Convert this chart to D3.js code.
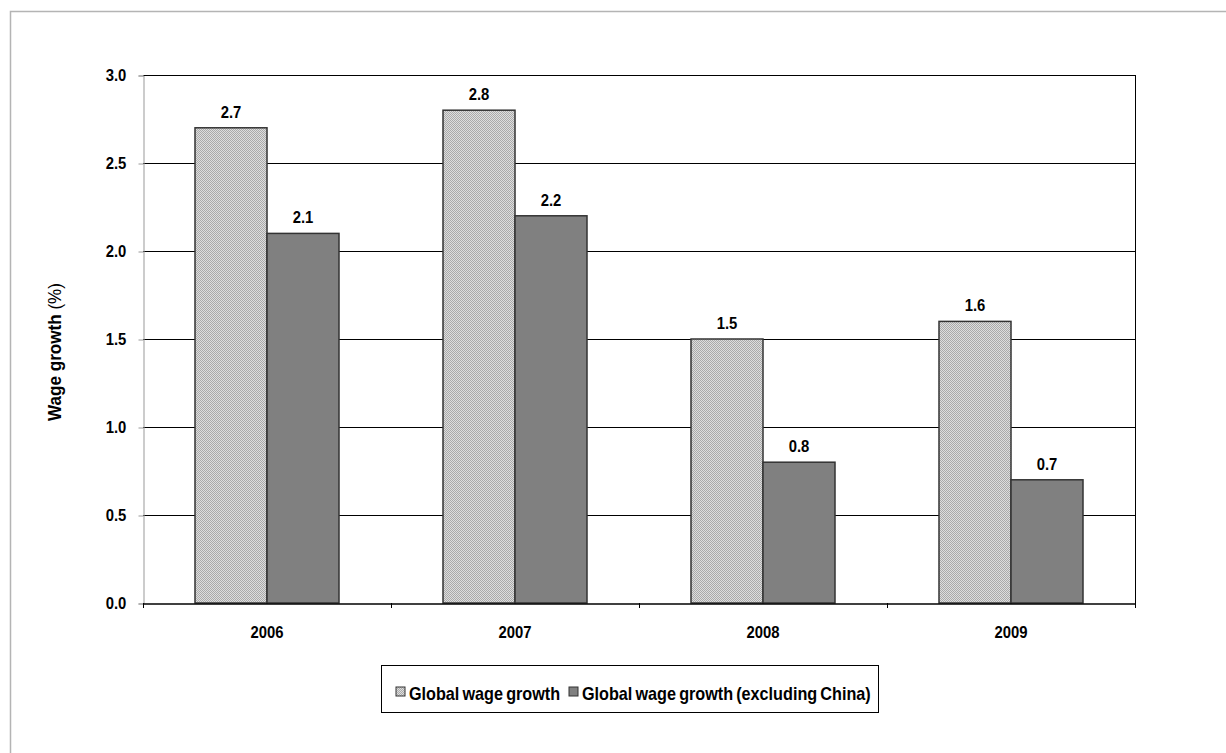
<!DOCTYPE html>
<html>
<head>
<meta charset="utf-8">
<script src="https://cdn.jsdelivr.net/npm/d3@7"></script>
<style>
  body { margin: 0; background: #fff; }
  svg { display: block; font-family: "Liberation Sans", Arial, sans-serif; }
  .cond { transform-box: fill-box; transform-origin: center; transform: scaleX(0.9); }
  .cond-l { transform-box: fill-box; transform-origin: left center; transform: scaleX(0.9); }
</style>
</head>
<body>
<svg width="1226" height="753"></svg>
<script>
'use strict'

const years = ['2006', '2007', '2008', '2009'];
const globalGrowth = [2.7, 2.8, 1.5, 1.6];
const exChinaGrowth = [2.1, 2.2, 0.8, 0.7];
const seriesNames = ['Global wage growth', 'Global wage growth (excluding China)'];
const yTicks = [0, 0.5, 1.0, 1.5, 2.0, 2.5, 3.0];

const svg = d3.select('svg');
const FS = 16.5;

// dotted pattern for the light bars
const defs = svg.append('defs');
const pat = defs.append('pattern')
  .attr('id', 'dots')
  .attr('width', 2).attr('height', 2)
  .attr('patternUnits', 'userSpaceOnUse');
pat.append('rect').attr('width', 2).attr('height', 2).attr('fill', '#dedede');
pat.append('rect').attr('width', 1).attr('height', 1).attr('fill', '#aaaaaa');
pat.append('rect').attr('x', 1).attr('y', 1).attr('width', 1).attr('height', 1).attr('fill', '#aaaaaa');

// outer frame
svg.append('rect')
  .attr('x', 10.5).attr('y', 11.5)
  .attr('width', 1230).attr('height', 760)
  .attr('fill', 'none').attr('stroke', '#b4b4b4').attr('stroke-width', 1.5);

const plotL = 143, plotR = 1135, plotT = 75, plotB = 603;

const x = d3.scaleBand().domain(years).range([plotL, plotR]);
const y = d3.scaleLinear().domain([0, 3]).range([plotB, plotT]);

// gridlines
svg.append('g')
  .selectAll('line')
  .data(yTicks.filter(d => d > 0))
  .join('line')
  .attr('x1', plotL).attr('x2', plotR)
  .attr('y1', d => y(d) + 0.5).attr('y2', d => y(d) + 0.5)
  .attr('stroke', '#000').attr('stroke-width', 1);

// right border
svg.append('line')
  .attr('x1', plotR + 0.5).attr('x2', plotR + 0.5)
  .attr('y1', plotT).attr('y2', plotB)
  .attr('stroke', '#000');

// y axis
const yAxis = svg.append('g')
  .attr('transform', `translate(${plotL + 0.5},0.5)`)
  .call(d3.axisLeft(y).tickValues(yTicks).tickFormat(d3.format('.1f')).tickSize(5).tickPadding(11));
yAxis.select('.domain').attr('stroke', '#999');
yAxis.selectAll('.tick line').attr('stroke', '#999');
yAxis.selectAll('text')
  .attr('class', 'cond')
  .attr('font-size', FS).attr('font-weight', 'bold').attr('fill', '#000')
  .attr('font-family', '"Liberation Sans", Arial, sans-serif');

// bars
const barW = 72;
const groups = svg.append('g')
  .selectAll('g')
  .data(years)
  .join('g');

groups.append('rect')
  .attr('x', d => x(d) + x.bandwidth() / 2 - barW)
  .attr('y', (d, i) => y(globalGrowth[i]))
  .attr('width', barW)
  .attr('height', (d, i) => plotB - y(globalGrowth[i]))
  .attr('fill', 'url(#dots)')
  .attr('stroke', '#333').attr('stroke-width', 1.5);

groups.append('rect')
  .attr('x', d => x(d) + x.bandwidth() / 2)
  .attr('y', (d, i) => y(exChinaGrowth[i]))
  .attr('width', barW)
  .attr('height', (d, i) => plotB - y(exChinaGrowth[i]))
  .attr('fill', '#808080')
  .attr('stroke', '#333').attr('stroke-width', 1.5);

// value labels
groups.append('text')
  .attr('class', 'cond')
  .attr('x', d => x(d) + x.bandwidth() / 2 - barW / 2)
  .attr('y', (d, i) => y(globalGrowth[i]) - 10)
  .attr('text-anchor', 'middle')
  .attr('font-size', FS).attr('font-weight', 'bold')
  .text((d, i) => d3.format('.1f')(globalGrowth[i]));

groups.append('text')
  .attr('class', 'cond')
  .attr('x', d => x(d) + x.bandwidth() / 2 + barW / 2)
  .attr('y', (d, i) => y(exChinaGrowth[i]) - 10)
  .attr('text-anchor', 'middle')
  .attr('font-size', FS).attr('font-weight', 'bold')
  .text((d, i) => d3.format('.1f')(exChinaGrowth[i]));

// x axis
const xAxis = svg.append('g')
  .attr('transform', `translate(0,${plotB + 0.5})`)
  .call(d3.axisBottom(x).tickSize(0).tickPadding(23));
xAxis.select('.domain').attr('stroke', '#000').attr('stroke-width', 1.5);
xAxis.selectAll('text')
  .attr('class', 'cond')
  .attr('font-size', FS).attr('font-weight', 'bold').attr('fill', '#000')
  .attr('font-family', '"Liberation Sans", Arial, sans-serif');
// category separators
svg.append('g')
  .selectAll('line')
  .data(years.concat(['end']))
  .join('line')
  .attr('x1', (d, i) => plotL + i * x.bandwidth() + 0.5)
  .attr('x2', (d, i) => plotL + i * x.bandwidth() + 0.5)
  .attr('y1', plotB).attr('y2', plotB + 5)
  .attr('stroke', '#000');

// y label
const yLab = svg.append('text')
  .attr('transform', `translate(61,352) rotate(-90) scale(0.9,1)`)
  .attr('text-anchor', 'middle')
  .attr('font-size', 19);
yLab.append('tspan').attr('font-weight', 'bold').text('Wage growth ');
yLab.append('tspan').text('(%)');

// legend
const legend = svg.append('g');
legend.append('rect')
  .attr('x', 381.5).attr('y', 665.5)
  .attr('width', 497).attr('height', 47)
  .attr('fill', '#fff').attr('stroke', '#000');

const legendX = [396, 569];
const items = legend.selectAll('g.item')
  .data(seriesNames)
  .join('g')
  .attr('class', 'item')
  .attr('transform', (d, i) => `translate(${legendX[i]},687)`);
items.append('rect')
  .attr('width', 9).attr('height', 9)
  .attr('fill', (d, i) => i === 0 ? 'url(#dots)' : '#808080')
  .attr('stroke', '#333');
items.append('text')
  .attr('class', 'cond-l')
  .attr('x', 13).attr('y', 13)
  .attr('font-size', 18).attr('font-weight', 'bold')
  .attr('word-spacing', -1.5)
  .text(d => d);
</script>
</body>
</html>
